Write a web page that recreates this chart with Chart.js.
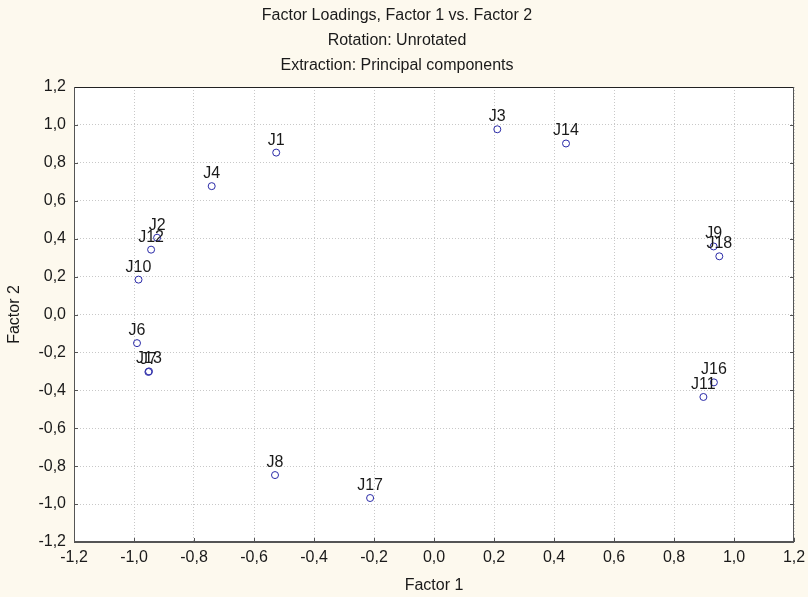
<!DOCTYPE html>
<html>
<head>
<meta charset="utf-8">
<title>Factor Loadings</title>
<script src="https://cdn.jsdelivr.net/npm/chart.js@4.4.1/dist/chart.umd.min.js"></script>
<style>
    html, body { margin: 0; padding: 0; background: #fdf9ee; }
    canvas { display: block; }
</style>
</head>
<body>
<canvas id="loadings" width="808" height="597"></canvas>
<script>
// Variables and their loadings
const varNames = ["J1", "J2", "J3", "J4", "J6", "J7", "J8", "J9", "J10", "J11", "J12", "J13", "J14", "J16", "J17", "J18"];
const factor1 = [-0.526, -0.923, 0.211, -0.741, -0.990, -0.952, -0.530, 0.932, -0.985, 0.898, -0.943, -0.950, 0.440, 0.933, -0.213, 0.951];
const factor2 = [0.854, 0.405, 0.977, 0.677, -0.151, -0.303, -0.847, 0.359, 0.184, -0.435, 0.342, -0.300, 0.902, -0.358, -0.968, 0.307];
const titleLines = ["Factor Loadings, Factor 1 vs. Factor 2", "Rotation: Unrotated", "Extraction: Principal components"];
const axisMin = -1.2;
const axisMax = 1.2;
const axisStep = 0.2;

const fontFamily = "'Liberation Sans', Arial, sans-serif";

function commaLabel(v) {
    if (Math.abs(v) < 1e-9) return "0,0";
    return v.toFixed(1).replace(".", ",");
}

document.addEventListener("DOMContentLoaded", function () {
    const points = factor1.map(function (x, i) {
        return { x: x, y: factor2[i], name: varNames[i] };
    });

    // cream page behind, white plot area
    const backdrop = {
        id: "backdrop",
        beforeDraw: function (chart) {
            const ctx = chart.ctx;
            const a = chart.chartArea;
            ctx.save();
            ctx.fillStyle = "#fdf9ee";
            ctx.fillRect(0, 0, chart.width, chart.height);
            ctx.fillStyle = "#ffffff";
            ctx.fillRect(a.left, a.top, a.right - a.left, a.bottom - a.top);
            ctx.restore();
        }
    };

    // frame and inward tick marks
    const frame = {
        id: "frame",
        afterDatasetsDraw: function (chart) {
            const ctx = chart.ctx;
            const a = chart.chartArea;
            const xs = chart.scales.x;
            const ys = chart.scales.y;
            ctx.save();
            ctx.strokeStyle = "#555555";
            ctx.lineWidth = 1;
            xs.ticks.forEach(function (t) {
                const px = Math.round(xs.getPixelForValue(t.value)) + 0.5;
                ctx.beginPath();
                ctx.moveTo(px, a.bottom);
                ctx.lineTo(px, a.bottom - 4);
                ctx.stroke();
            });
            ys.ticks.forEach(function (t) {
                const py = Math.round(ys.getPixelForValue(t.value)) + 0.5;
                ctx.beginPath();
                ctx.moveTo(a.left, py);
                ctx.lineTo(a.left + 4, py);
                ctx.moveTo(a.right, py);
                ctx.lineTo(a.right - 4, py);
                ctx.stroke();
            });
            ctx.strokeStyle = "#222222";
            ctx.beginPath();
            ctx.moveTo(a.left, a.top + 0.5);
            ctx.lineTo(a.right, a.top + 0.5);
            ctx.stroke();
            ctx.strokeStyle = "#555555";
            ctx.beginPath();
            ctx.moveTo(a.left + 0.5, a.top);
            ctx.lineTo(a.left + 0.5, a.bottom);
            ctx.moveTo(a.right - 0.5, a.top);
            ctx.lineTo(a.right - 0.5, a.bottom);
            ctx.stroke();
            ctx.lineWidth = 2;
            ctx.beginPath();
            ctx.moveTo(a.left, a.bottom);
            ctx.lineTo(a.right, a.bottom);
            ctx.stroke();
            ctx.restore();
        }
    };

    // variable names above each marker
    const pointNames = {
        id: "pointNames",
        afterDatasetsDraw: function (chart) {
            const ctx = chart.ctx;
            const meta = chart.getDatasetMeta(0);
            ctx.save();
            ctx.font = "16px " + fontFamily;
            ctx.fillStyle = "#1a1a1a";
            ctx.textAlign = "center";
            ctx.textBaseline = "alphabetic";
            meta.data.forEach(function (el, i) {
                ctx.fillText(points[i].name, el.x, el.y - 8);
            });
            ctx.restore();
        }
    };

    new Chart(document.getElementById("loadings"), {
        type: "scatter",
        data: {
            datasets: [{
                data: points,
                pointStyle: "circle",
                pointRadius: 3.5,
                pointBorderWidth: 1,
                pointBorderColor: "#2a2aa8",
                pointBackgroundColor: "rgba(255,255,255,0)"
            }]
        },
        options: {
            responsive: false,
            animation: false,
            devicePixelRatio: 1,
            layout: { padding: { left: 0, right: 14, top: 0, bottom: 0 } },
            plugins: {
                legend: { display: false },
                tooltip: { enabled: false },
                title: {
                    display: true,
                    text: titleLines,
                    color: "#1a1a1a",
                    font: { family: fontFamily, size: 16, weight: "normal", lineHeight: "25px" },
                    padding: { top: 3.5, bottom: 8.5 }
                }
            },
            scales: {
                x: {
                    type: "linear",
                    min: axisMin,
                    max: axisMax,
                    afterFit: function (scale) {
                        scale.height = 55;
                        scale.paddingRight = 12;
                    },
                    ticks: {
                        stepSize: axisStep,
                        padding: 6,
                        maxRotation: 0,
                        color: "#1a1a1a",
                        font: { family: fontFamily, size: 16 },
                        callback: function (v) { return commaLabel(v); }
                    },
                    grid: { color: "#c8c8c8", drawTicks: false, lineWidth: 1 },
                    border: { display: false, dash: [1, 2] },
                    title: {
                        display: true,
                        text: "Factor 1",
                        color: "#1a1a1a",
                        font: { family: fontFamily, size: 16 },
                        padding: { top: 0, bottom: 1.5 }
                    }
                },
                y: {
                    type: "linear",
                    min: axisMin,
                    max: axisMax,
                    afterFit: function (scale) { scale.width = 74; },
                    ticks: {
                        stepSize: axisStep,
                        padding: 8,
                        color: "#1a1a1a",
                        font: { family: fontFamily, size: 16 },
                        callback: function (v) { return commaLabel(v); }
                    },
                    grid: { color: "#c8c8c8", drawTicks: false, lineWidth: 1 },
                    border: { display: false, dash: [1, 2] },
                    title: {
                        display: true,
                        text: "Factor 2",
                        color: "#1a1a1a",
                        font: { family: fontFamily, size: 16 },
                        padding: { top: 5, bottom: 0 }
                    }
                }
            }
        },
        plugins: [backdrop, frame, pointNames]
    });
});
</script>
</body>
</html>
